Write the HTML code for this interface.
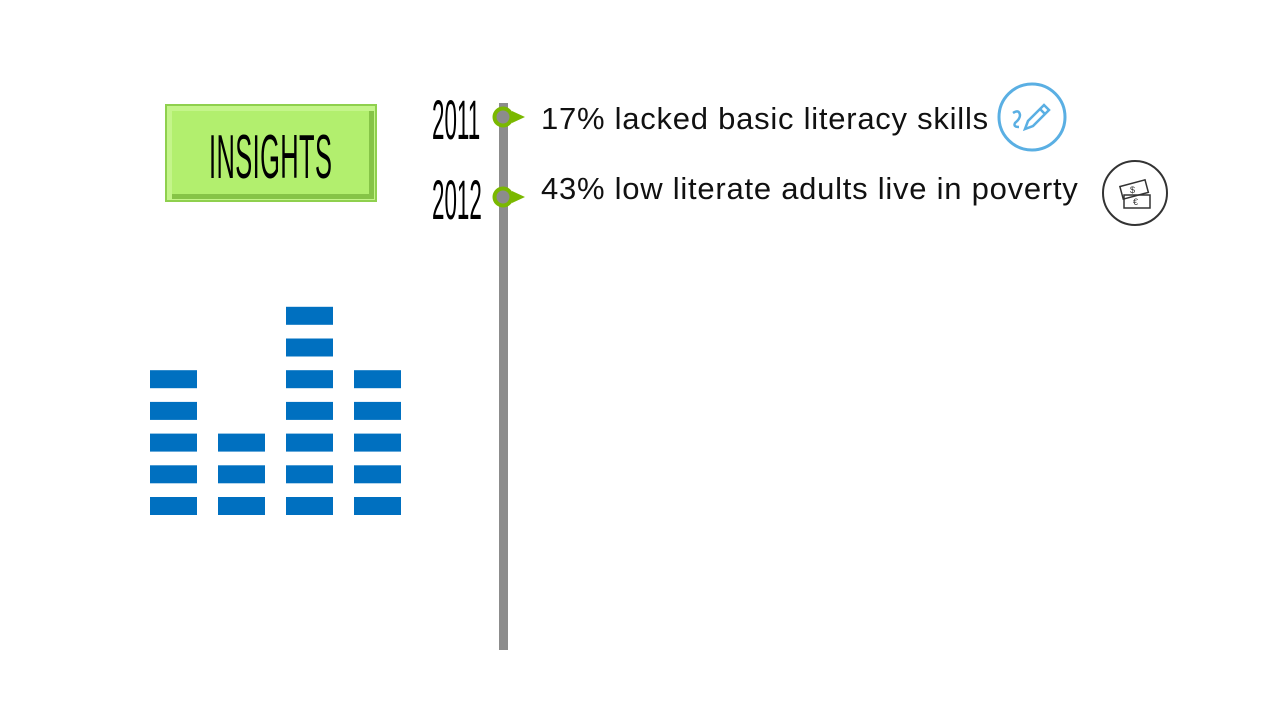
<!DOCTYPE html>
<html><head><meta charset="utf-8"><style>
body{margin:0;width:1280px;height:720px;background:#fff;overflow:hidden;position:relative;font-family:"Liberation Sans",sans-serif}
.abs{position:absolute}
.cond{font-family:"Liberation Sans Narrow","Liberation Sans",sans-serif;transform-origin:left top;color:#000;white-space:nowrap}
.txt{font-size:31px;color:#111;white-space:nowrap;letter-spacing:0.75px}
</style></head><body>
<div class="abs" style="left:165px;top:104px;width:212px;height:98px;background:#b2ef6e;box-sizing:border-box;border:2px solid #8fd04e;box-shadow:inset 2px 2px 0 3px #c4f58a,inset -3px -3px 0 3px #86c447">
<div class="abs cond" style="left:42px;top:16px;font-size:62px;transform:scaleX(0.41);letter-spacing:1px">INSIGHTS</div>
</div>
<div class="abs cond" style="left:432px;top:87px;font-size:56px;transform:scaleX(0.40)">2011</div>
<div class="abs cond" style="left:432px;top:167px;font-size:56px;transform:scaleX(0.40)">2012</div>
<div class="abs" style="left:499px;top:103px;width:9px;height:547px;background:#8c8c8c"></div>
<svg class="abs" style="left:0;top:0" width="1280" height="720">
<g><polygon points="512,111 525,117 512,123" fill="#7ab800"/><circle cx="503" cy="117" r="8.5" fill="#8c8c8c" stroke="#7ab800" stroke-width="4"/></g>
<g><polygon points="512,191 525,197 512,203" fill="#7ab800"/><circle cx="503" cy="197" r="8.5" fill="#8c8c8c" stroke="#7ab800" stroke-width="4"/></g>
<g fill="none" stroke="#5aafe3" stroke-width="3"><circle cx="1032" cy="117" r="33"/><path d="M1013 113 q6 -4 7 2 q0 4 -5 8 q-2 4 4 4" stroke-width="2.5"/><path d="M1025 129 l3 -8 l16 -16 l5 5 l-16 16 z M1040 109 l5 5" stroke-width="2.5"/></g>
<g fill="none" stroke="#333" stroke-width="2"><circle cx="1135" cy="193" r="32"/><rect x="1121" y="183" width="26" height="13" transform="rotate(-15 1134 189)" stroke-width="1.5"/><rect x="1124" y="195" width="26" height="13" stroke-width="1.5"/><text x="1130" y="193" font-size="9" fill="#333" stroke="none">$</text><text x="1133" y="205" font-size="9" fill="#333" stroke="none">€</text></g>
<g id="bars"></g>
</svg>
<div class="abs txt" style="left:541px;top:101px">17% lacked basic literacy skills</div>
<div class="abs txt" style="left:541px;top:171px">43% low literate adults live in poverty</div>
<script>
const columns=["c1","c2","c3","c4"];
const segments=[5,3,7,5];
const g=document.getElementById('bars');
const x0=150,colW=47,colGap=68,base=515,segH=18,pitch=31.7;
columns.forEach((c,i)=>{for(let k=0;k<segments[i];k++){
const r=document.createElementNS('http://www.w3.org/2000/svg','rect');
r.setAttribute('x',x0+i*colGap);r.setAttribute('y',base-segH-k*pitch);
r.setAttribute('width',colW);r.setAttribute('height',segH);r.setAttribute('fill','#0070c0');


g.appendChild(r);}});
</script>
</body></html>
